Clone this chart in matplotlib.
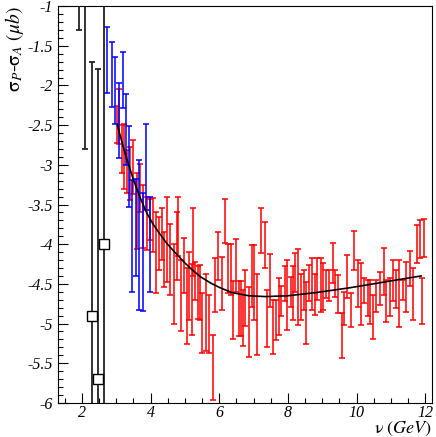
import numpy as np
import matplotlib.pyplot as plt
from matplotlib.ticker import MultipleLocator, FormatStrFormatter

plt.rcParams['font.family'] = ['Liberation Serif', 'DejaVu Serif']
plt.rcParams['mathtext.fontset'] = 'stix'
plt.rcParams['axes.unicode_minus'] = False

# black points (low energy), first two sit above the frame
black_x = [1.91, 2.10, 2.29, 2.48, 2.65]
black_y = [0.50, 0.00, -4.90, -5.70, -4.00]
black_err = [1.80, 2.80, 3.20, 3.91, 3.60]

# blue points: top and bottom of each bar
blue_x = [2.74, 2.87, 2.97, 3.07, 3.18, 3.27, 3.37, 3.47, 3.57, 3.67, 3.77, 3.86, 3.97]
blue_top = [-1.26, -1.45, -1.64, -1.97, -1.58, -2.11, -2.51, -3.19, -3.18, -2.94, -3.35, -2.48, -3.40]
blue_bot = [-2.09, -2.27, -2.49, -2.92, -2.29, -3.00, -3.53, -4.60, -4.40, -4.83, -4.84, -3.57, -4.60]

# red points: top and bottom of each bar
red_x = [3.02, 3.09, 3.16, 3.23, 3.31, 3.40, 3.50, 3.60, 3.70, 3.79, 3.89, 3.97,
         4.06, 4.16, 4.25, 4.33, 4.38, 4.47, 4.57, 4.67, 4.76, 4.80, 4.88, 4.96,
         5.05, 5.11, 5.20, 5.24, 5.30, 5.37, 5.44, 5.51, 5.61, 5.71, 5.81, 5.88,
         5.95, 6.08, 6.18, 6.25, 6.33, 6.40, 6.49, 6.57, 6.64, 6.69, 6.76, 6.86,
         6.94, 7.02, 7.10, 7.22, 7.32, 7.40, 7.47, 7.56, 7.64, 7.74, 7.81, 7.91,
         7.98, 8.08, 8.15, 8.22, 8.30, 8.37, 8.47, 8.54, 8.61, 8.71, 8.79, 8.86,
         8.96, 9.02, 9.12, 9.20, 9.30, 9.38, 9.47, 9.57, 9.64, 9.72, 9.84, 9.93,
         10.03, 10.13, 10.22, 10.32, 10.40, 10.49, 10.57, 10.69, 10.79, 10.86, 10.96, 11.05,
         11.15, 11.25, 11.35, 11.45, 11.55, 11.64, 11.76, 11.84, 11.90, 11.97]
red_top = [-2.26, -2.05, -2.50, -2.48, -2.81, -2.77, -2.69, -3.10, -2.99, -3.25, -3.40, -3.43,
           -3.42, -3.60, -3.66, -3.55, -3.85, -3.40, -3.75, -4.00, -3.60, -3.40, -4.20, -3.92,
           -4.30, -4.10, -4.25, -3.55, -4.22, -4.27, -4.26, -4.62, -4.37, -4.64, -5.14, -4.17,
           -3.85, -4.16, -3.43, -4.00, -4.00, -4.46, -3.93, -4.46, -4.46, -4.58, -4.33, -4.54,
           -4.01, -4.01, -4.38, -3.55, -3.72, -4.58, -4.12, -4.70, -4.70, -4.42, -4.53, -4.27,
           -4.20, -4.41, -4.27, -4.11, -4.06, -4.37, -4.32, -4.48, -4.26, -4.18, -4.38, -4.18,
           -4.18, -4.24, -4.33, -4.32, -3.99, -4.32, -4.39, -4.87, -4.60, -4.14, -4.62, -3.84,
           -4.20, -4.24, -4.42, -4.45, -4.45, -4.64, -4.45, -4.35, -4.05, -4.45, -4.43, -4.20,
           -4.32, -4.20, -4.45, -4.22, -4.08, -4.30, -3.76, -3.69, -4.43, -3.68]
red_bot = [-2.72, -2.74, -3.10, -3.30, -3.36, -3.44, -3.37, -4.06, -3.60, -4.05, -4.07, -3.95,
           -4.10, -4.61, -4.32, -4.20, -4.54, -4.48, -4.64, -5.00, -4.45, -4.15, -5.10, -4.62,
           -5.26, -4.95, -5.14, -4.40, -4.70, -4.94, -4.95, -5.37, -5.35, -5.37, -5.96, -4.85,
           -4.45, -4.83, -3.98, -4.62, -4.64, -5.19, -4.60, -5.16, -5.16, -5.28, -5.03, -5.42,
           -4.79, -4.95, -5.39, -4.11, -4.30, -5.30, -4.79, -5.38, -5.21, -5.14, -4.91, -4.72,
           -5.08, -4.79, -4.95, -4.60, -5.02, -4.95, -4.83, -5.26, -4.72, -4.83, -4.89, -4.70,
           -4.85, -4.83, -4.68, -4.72, -4.49, -4.66, -4.87, -5.44, -5.02, -4.68, -5.04, -4.32,
           -4.79, -5.02, -4.74, -4.91, -5.00, -5.19, -4.85, -4.77, -4.64, -4.98, -4.91, -4.72,
           -4.81, -5.04, -4.70, -4.85, -4.53, -4.95, -4.24, -4.18, -5.00, -4.16]

# fitted curve
fit_x = [3.03, 3.25, 3.50, 3.70, 3.89, 4.06, 4.25, 4.47, 4.70, 4.96, 5.20, 5.45,
         5.75, 6.03, 6.37, 6.86, 7.35, 8.00, 8.81, 9.79, 10.76, 11.88]
fit_y = [-2.50, -2.85, -3.19, -3.42, -3.61, -3.74, -3.86, -3.99, -4.10, -4.22, -4.32, -4.41,
         -4.49, -4.55, -4.61, -4.65, -4.66, -4.65, -4.61, -4.55, -4.48, -4.40]

fig = plt.figure(figsize=(4.36, 4.37), dpi=100)
ax = fig.add_axes([0.133, 0.078, 0.858, 0.908])


def draw_bars(x, top, bot, color):
    top = np.array(top)
    bot = np.array(bot)
    mid = (top + bot) / 2
    err = (top - bot) / 2
    ax.errorbar(x, mid, yerr=err, fmt='none', ecolor=color, elinewidth=1.3,
                capsize=2.2, capthick=1.3, alpha=0.85)


draw_bars(red_x, red_top, red_bot, '#ff0000')
draw_bars(blue_x, blue_top, blue_bot, '#0000ff')

ax.errorbar(black_x, black_y, yerr=black_err, fmt='none', ecolor='#222222',
            elinewidth=1.3, capsize=2.2, capthick=1.3)
ax.plot(black_x[2:], black_y[2:], 's', ms=6.5, mfc='white', mec='black', mew=1.0, ls='none', zorder=5)

ax.plot(fit_x, fit_y, color='black', lw=1.2, zorder=4)

ax.set_xlim(1.3, 12.2)
ax.set_ylim(-6, -1)
ax.xaxis.set_major_locator(MultipleLocator(2))
ax.xaxis.set_minor_locator(MultipleLocator(0.5))
ax.yaxis.set_major_locator(MultipleLocator(0.5))
ax.yaxis.set_minor_locator(MultipleLocator(0.1))
ax.yaxis.set_major_formatter(FormatStrFormatter('%g'))
ax.xaxis.set_major_formatter(FormatStrFormatter('%g'))
ax.tick_params(which='both', direction='in', top=False, right=False, labelsize=11.5)
ax.tick_params(which='major', length=7, width=0.8)
ax.tick_params(which='minor', length=3.5, width=0.8)
ax.tick_params(axis='x', which='major', pad=1.5)
for lab in ax.get_xticklabels() + ax.get_yticklabels():
    lab.set_fontstyle('italic')
for s in ax.spines.values():
    s.set_linewidth(0.8)

ax.set_ylabel(r'$\mathrm{\sigma}_{P}$-$\mathrm{\sigma}_{A}$ $(\mu b)$', fontsize=14)
ax.yaxis.set_label_coords(-0.085, 1.0)
ax.yaxis.label.set_ha('right')
ax.set_xlabel(r'$\mathrm{\nu}$ $(GeV)$', fontsize=13)
ax.xaxis.set_label_coords(1.0, -0.043)
ax.xaxis.label.set_ha('right')

fig.savefig('out.png', dpi=100)
